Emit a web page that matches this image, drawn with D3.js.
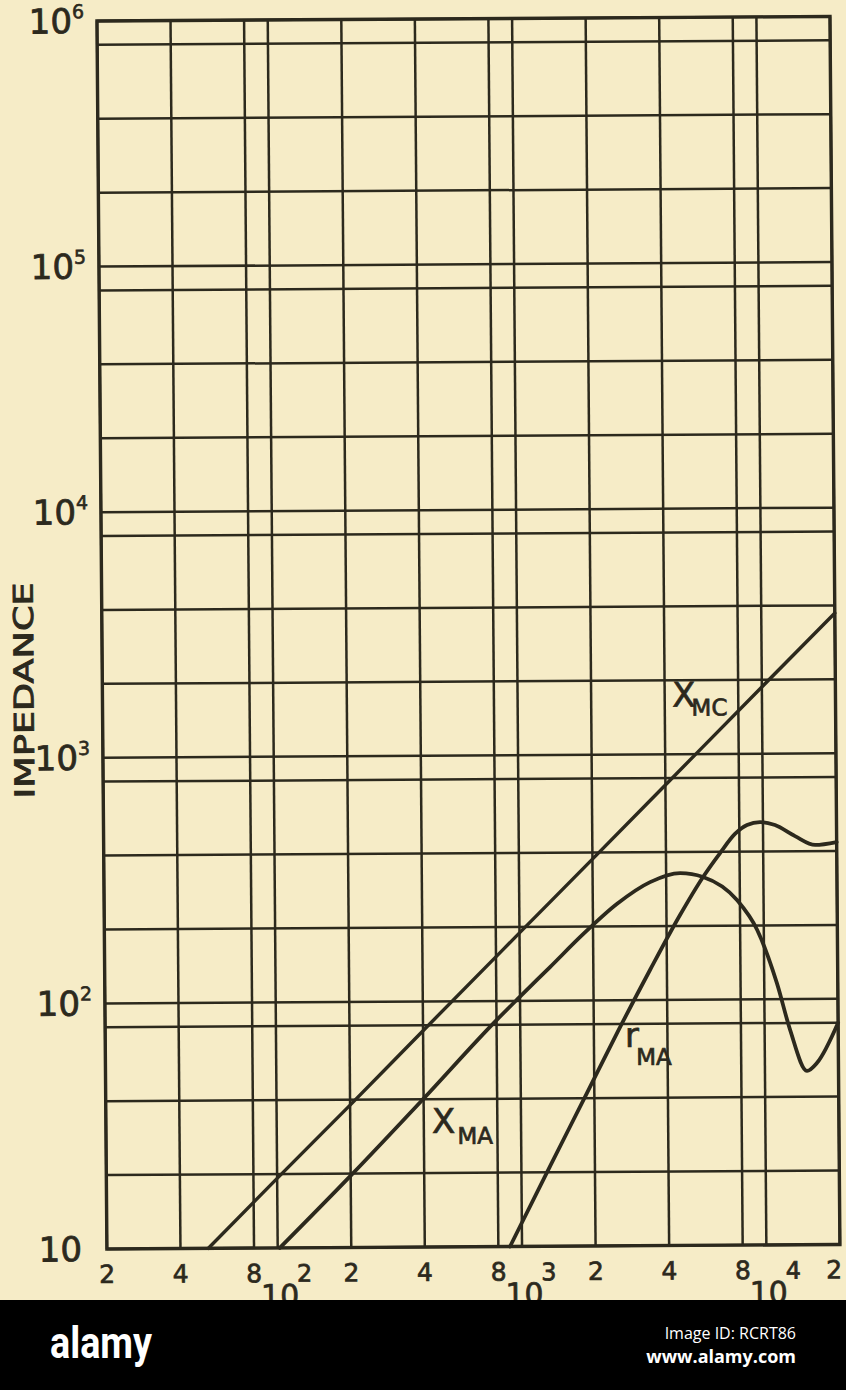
<!DOCTYPE html>
<html><head><meta charset="utf-8">
<script src="https://cdn.jsdelivr.net/npm/d3@7"></script>
<style>html,body{margin:0;padding:0;background:#f6ecc7;} svg{display:block}</style>
</head><body>
<svg id="chart" width="846" height="1390"></svg>
<script>
// ---- data ----
const xGridValues = [20,40,80,100,200,400,800,1000,2000,4000,8000,10000,20000];
const yGridValues = [10,20,40,80,100,200,400,800,1000,2000,4000,8000,10000,20000,40000,80000,100000,200000,400000,800000,1000000];
const xTickValues = [20,40,80,200,400,800,2000,4000,8000,20000];
const xTickLabels = ["2","4","8","2","4","8","2","4","8","2"];
const xDecadeValues = [100,1000,10000];
const xDecadeExps = ["2","3","4"];
const yDecadeValues = [10,100,1000,10000,100000,1000000];
const yDecadeExps = ["","2","3","4","5","6"];
const yTitle = "IMPEDANCE";

const freqXMC = [52, 100, 200, 400, 1000, 2000, 4000, 10000, 20000];
const valXMC  = [10, 19.2, 38, 76, 189, 376, 750, 1870, 3720];
const freqXMA = [102, 201, 398, 804, 1000, 1330, 1821, 2515, 3437, 4559, 5664, 7785, 9386, 11275, 12715, 14862, 16350, 20000];
const valXMA  = [10, 19.7, 40, 84, 104, 137, 186, 247, 302, 328, 316, 254, 192, 116, 75, 51, 55, 80];
const freqRMA = [893, 1311, 1867, 2488, 3411, 4546, 5664, 6661, 7675, 8606, 9727, 11200, 13517, 16330, 20000];
const valRMA  = [10, 21.2, 42, 73.5, 132.5, 221.5, 316, 395, 472, 513, 527, 512, 461, 424, 435];

const curveLabels = [
  {main:"X", sub:"MC", f:4290, z:1560, dx:-4, dy:9},
  {main:"X", sub:"MA", f:432,  z:29.1, dx:2,  dy:11},
  {main:"r", sub:"MA", f:2680, z:64.4, dx:-3, dy:18}
];

// ---- layout ----
const ink = "#2c291d";
const svg = d3.select("#chart");
svg.append("rect").attr("width",846).attr("height",1390).attr("fill","#f6ecc7");

// scanned page is slightly skewed
const g = svg.append("g").attr("transform","matrix(1,-0.0062,0.0081,1,-0.2,0.6)");

const x = d3.scaleLog().domain([20, 20000]).range([97, 830]);
const y = d3.scaleLog().domain([10, 1e6]).range([1249, 21]);

// grid
g.append("g").selectAll("line").data(xGridValues).join("line")
  .attr("x1", d=>x(d)).attr("x2", d=>x(d))
  .attr("y1", y(1e6)).attr("y2", y(10))
  .attr("stroke", ink).attr("stroke-width", 2.5);
g.append("g").selectAll("line").data(yGridValues).join("line")
  .attr("y1", d=>y(d)).attr("y2", d=>y(d))
  .attr("x1", x(20)).attr("x2", x(20000))
  .attr("stroke", ink).attr("stroke-width", 2.5);
// frame
g.append("rect").attr("x", x(20)).attr("y", y(1e6))
  .attr("width", x(20000)-x(20)).attr("height", y(10)-y(1e6))
  .attr("fill","none").attr("stroke", ink).attr("stroke-width", 3.4);

// curves
const line = d3.line().x(d=>x(d[0])).y(d=>y(d[1])).curve(d3.curveMonotoneX);
const series = [
  {f:freqXMC, v:valXMC, w:3.4},
  {f:freqXMA, v:valXMA, w:3.8},
  {f:freqRMA, v:valRMA, w:3.8}
];
g.append("g").selectAll("path").data(series).join("path")
  .attr("d", s => line(s.f.map((f,i)=>[f, s.v[i]])))
  .attr("fill","none").attr("stroke", ink).attr("stroke-width", d=>d.w)
  .attr("stroke-linejoin","round").attr("stroke-linecap","round");

// curve labels
const font = "'DejaVu Sans', 'Liberation Sans', sans-serif";
curveLabels.forEach(l => {
  const t = g.append("text").attr("x", x(l.f)).attr("y", y(l.z))
    .attr("font-family", font).attr("fill", ink)
    .attr("stroke", ink).attr("stroke-width", 0.7);
  t.append("tspan").attr("font-size", 34).text(l.main);
  t.append("tspan").attr("font-size", 23).attr("dx", l.dx).attr("dy", l.dy).text(l.sub);
});

// y tick labels
yDecadeValues.forEach((v,i) => {
  g.append("text").attr("x", 72).attr("y", y(v)+12)
    .attr("font-family", font).attr("font-size", 34).attr("fill", ink)
    .attr("stroke", ink).attr("stroke-width", 0.8)
    .attr("text-anchor","end").text("10");
  if (yDecadeExps[i]) {
    g.append("text").attr("x", 72).attr("y", y(v)-3)
      .attr("font-family", font).attr("font-size", 19).attr("fill", ink)
      .attr("stroke", ink).attr("stroke-width", 0.6)
      .text(yDecadeExps[i]);
  }
});

// x tick labels
g.append("g").selectAll("text").data(xTickValues).join("text")
  .attr("x", d=> d === 20000 ? x(d)-6 : x(d)).attr("y", y(10)+34)
  .attr("text-anchor","middle").attr("font-family", font)
  .attr("font-size", 25).attr("fill", ink)
  .attr("stroke", ink).attr("stroke-width", 0.7)
  .text((d,i)=>xTickLabels[i]);
xDecadeValues.forEach((v,i) => {
  g.append("text").attr("x", x(v)+2).attr("y", y(10)+58)
    .attr("text-anchor","middle").attr("font-family", font)
    .attr("font-size", 30).attr("fill", ink)
    .attr("stroke", ink).attr("stroke-width", 0.7).text("10");
  g.append("text").attr("x", x(v)+19).attr("y", y(10)+34)
    .attr("font-family", font).attr("font-size", 24).attr("fill", ink)
    .attr("stroke", ink).attr("stroke-width", 0.7)
    .text(xDecadeExps[i]);
});

// y axis title
g.append("text").attr("transform", "translate(28,690) rotate(-90)")
  .attr("text-anchor","middle").attr("font-family", font)
  .attr("font-size", 27).attr("fill", ink)
  .attr("stroke", ink).attr("stroke-width", 0.9)
  .attr("textLength", 216).attr("lengthAdjust","spacingAndGlyphs")
  .text(yTitle);

// banner at the bottom of the image
svg.append("rect").attr("x",0).attr("y",1300).attr("width",846).attr("height",90).attr("fill","#000");
svg.append("text").attr("x",50).attr("y",1358).attr("font-family","Roboto, 'Liberation Sans', sans-serif")
  .attr("font-weight","bold").attr("font-size",44).attr("fill","#fff")
  .attr("textLength",102).attr("lengthAdjust","spacingAndGlyphs").text("alamy");
svg.append("text").attr("x",796).attr("y",1339).attr("text-anchor","end")
  .attr("font-family","'Open Sans', sans-serif").attr("font-size",16).attr("fill","#fff")
  .text("Image ID: RCRT86");
svg.append("text").attr("x",796).attr("y",1363).attr("text-anchor","end")
  .attr("font-family","'Open Sans', sans-serif").attr("font-weight","bold").attr("font-size",18).attr("fill","#fff")
  .text("www.alamy.com");
</script>
</body></html>
